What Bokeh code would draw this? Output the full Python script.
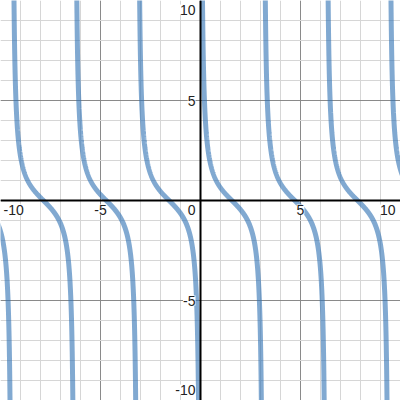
import numpy as np
from bokeh.plotting import figure
from bokeh.models import ColumnDataSource, Span, SingleIntervalTicker
from bokeh.core.properties import value
from bokeh.embed import file_html
from bokeh.resources import INLINE

# ---- chart content (Desmos-style graph of y = cot(x)) ----
x_view = (-10, 10)
y_view = (-10, 10)
period = np.pi                       # cot(x) repeats every pi
branch_starts = [-4, -3, -2, -1, 0, 1, 2, 3]   # branch k lies between k*pi and (k+1)*pi
x_tick_values = [-10, -5, 5, 10]
x_tick_labels = ["-10", "-5", "5", "10"]
y_tick_values = [-10, -5, 5, 10]
y_tick_labels = ["-10", "-5", "5", "10"]
origin_label = ["0"]

W, H = 400, 400
p = figure(width=W, height=H, x_range=x_view, y_range=y_view,
           output_backend="svg", toolbar_location=None, min_border=0)
p.axis.visible = False
p.outline_line_color = None
p.background_fill_color = "white"

# grid: major every 5, minor every 1
for g in (p.xgrid, p.ygrid):
    g.ticker = SingleIntervalTicker(interval=5, num_minor_ticks=5)
    g.grid_line_color = "#8a8a8a"
    g.grid_line_width = 1
    g.minor_grid_line_color = "#d6d6d6"
    g.minor_grid_line_width = 1

# axes lines
p.add_layout(Span(location=0, dimension="width", line_color="black", line_width=2))
p.add_layout(Span(location=0, dimension="height", line_color="black", line_width=2))

# curve branches
for k in branch_starts:
    a = k * period
    t = np.linspace(0.0, 1.0, 600)
    xs = a + 0.04 + (period - 0.08) * t
    ys = np.cos(xs) / np.sin(xs)
    p.line(xs, ys, line_color="#2d70b3", line_alpha=0.6, line_width=5)

font = value("Liberation Sans")
fs = "14px"
# x-axis labels
xl = ColumnDataSource(dict(
    x=x_tick_values, y=[0] * len(x_tick_values), text=x_tick_labels,
    align=["left", "center", "center", "right"],
    xo=[3, 0, 0, -5],
))
p.text(x="x", y="y", text="text", source=xl, text_font=font, text_font_size=fs,
       text_color="#222222", text_align="align", text_baseline="top",
       x_offset="xo", y_offset=4, background_fill_color="white")

# y-axis labels
yl = ColumnDataSource(dict(
    x=[0] * len(y_tick_values), y=y_tick_values, text=y_tick_labels,
    base=["bottom", "middle", "middle", "top"],
    yo=[-6, 0, 0, 4],
))
p.text(x="x", y="y", text="text", source=yl, text_font=font, text_font_size=fs,
       text_color="#222222", text_align="right", text_baseline="base",
       x_offset=-5, y_offset="yo", background_fill_color="white")

# origin label
p.text(x=[0], y=[0], text=origin_label, text_font=font, text_font_size=fs,
       text_color="#222222", text_align="right", text_baseline="top",
       x_offset=-5, y_offset=4, background_fill_color="white")

open("out.html", "w").write(file_html(p, INLINE))
